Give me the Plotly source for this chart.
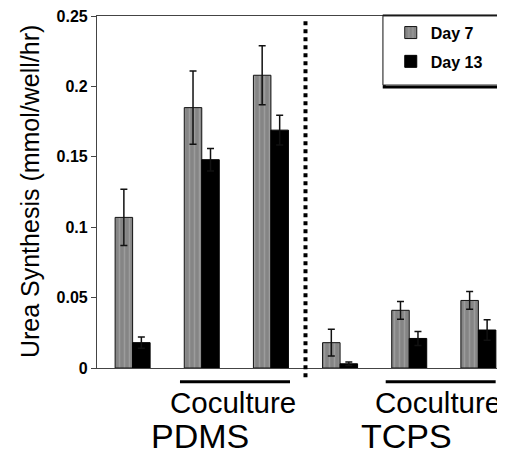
import plotly.graph_objects as go

groups = ["PDMS 1", "PDMS 2", "PDMS 3", "TCPS 1", "TCPS 2", "TCPS 3"]
day7 = [0.107, 0.185, 0.208, 0.018, 0.041, 0.048]
day7_err = [0.020, 0.026, 0.021, 0.0095, 0.0063, 0.0063]
day13 = [0.018, 0.148, 0.169, 0.003, 0.021, 0.027]
day13_err = [0.004, 0.008, 0.0105, 0.0013, 0.005, 0.0072]
yticks = [0, 0.05, 0.1, 0.15, 0.2, 0.25]
ytick_text = ["0", "0.05", "0.1", "0.15", "0.2", "0.25"]

FONT = "Arial, Liberation Sans, sans-serif"

fig = go.Figure()
fig.add_trace(go.Bar(
    x=groups, y=day7, name="Day 7", legendgroup="d7",
    marker=dict(color="#8c8c8c", line=dict(color="#111", width=1),
                pattern=dict(shape="|", size=5, solidity=0.3,
                             fgcolor="#b4b4b4", bgcolor="#858585")),
    error_y=dict(type="data", array=day7_err, color="#111", thickness=1.5, width=3.5),
))
fig.add_trace(go.Bar(
    x=groups, y=day13, name="Day 13", legendgroup="d13",
    marker=dict(color="#000", line=dict(color="#000", width=1)),
    error_y=dict(type="data", array=day13_err, color="#111", thickness=1.5, width=3.5),
))

shapes = []
# dotted separator between PDMS and TCPS
shapes.append(dict(type="line", xref="x", yref="paper", x0=2.5, x1=2.5, y0=-0.026, y1=0.99,
                   line=dict(color="#000", width=4, dash="dot")))
# coculture underline bars
shapes.append(dict(type="line", xref="x", yref="paper", x0=0.685, x1=2.276, y0=-0.039, y1=-0.039,
                   line=dict(color="#000", width=3)))
shapes.append(dict(type="line", xref="x", yref="paper", x0=3.66, x1=5.25, y0=-0.039, y1=-0.039,
                   line=dict(color="#000", width=3)))
# legend box with shadow
shapes.append(dict(type="rect", xref="paper", yref="paper", x0=0.704, x1=1.02, y0=0.798, y1=1.0,
                   line=dict(color="#000", width=3), fillcolor="rgba(0,0,0,0)"))
shapes.append(dict(type="rect", xref="paper", yref="paper", x0=0.701, x1=1.02, y0=0.804, y1=1.0,
                   line=dict(color="#333", width=1), fillcolor="#fff"))

annotations = [
    dict(text="Urea Synthesis (mmol/well/hr)", xref="paper", yref="paper", x=-0.164, y=0.5,
         textangle=-90, showarrow=False, xanchor="center", yanchor="middle",
         font=dict(size=25, family=FONT, color="#000")),
    dict(text="Coculture", xref="x", yref="paper", x=1.45, y=-0.099, showarrow=False,
         xanchor="center", yanchor="middle", font=dict(size=29.5, family=FONT, color="#000")),
    dict(text="Coculture", xref="x", yref="paper", x=4.416, y=-0.099, showarrow=False,
         xanchor="center", yanchor="middle", font=dict(size=29.5, family=FONT, color="#000")),
    dict(text="PDMS", xref="x", yref="paper", x=0.974, y=-0.192, showarrow=False,
         xanchor="center", yanchor="middle", font=dict(size=34, family=FONT, color="#000")),
    dict(text="TCPS", xref="x", yref="paper", x=3.96, y=-0.192, showarrow=False,
         xanchor="center", yanchor="middle", font=dict(size=34, family=FONT, color="#000")),
]

fig.update_layout(
    width=497, height=446,
    margin=dict(l=89, r=0, t=8, b=86),
    paper_bgcolor="#fff", plot_bgcolor="#fff",
    barmode="group", bargap=0.494, bargroupgap=0,
    font=dict(family=FONT, color="#000"),
    showlegend=True,
    legend=dict(x=0.72, y=1.001, xanchor="left", yanchor="top",
                bgcolor="rgba(0,0,0,0)", borderwidth=0,
                font=dict(size=16, family=FONT, weight="bold"),
                traceorder="grouped", tracegroupgap=5),
    xaxis=dict(range=[-0.515, 5.385], showticklabels=False, ticks="",
               showline=True, linecolor="#444", linewidth=1.2, mirror=True,
               showgrid=False, zeroline=False, fixedrange=True),
    yaxis=dict(range=[0, 0.2501], tickvals=yticks, ticktext=ytick_text,
               ticks="outside", ticklen=5, tickcolor="#444", tickwidth=1,
               ticklabeloverflow="allow",
               tickfont=dict(size=16, family=FONT, weight="bold", color="#000"),
               showline=True, linecolor="#444", linewidth=1.2,
               showgrid=False, zeroline=False, fixedrange=True),
    shapes=shapes,
    annotations=annotations,
)

fig.write_html("out.html")
